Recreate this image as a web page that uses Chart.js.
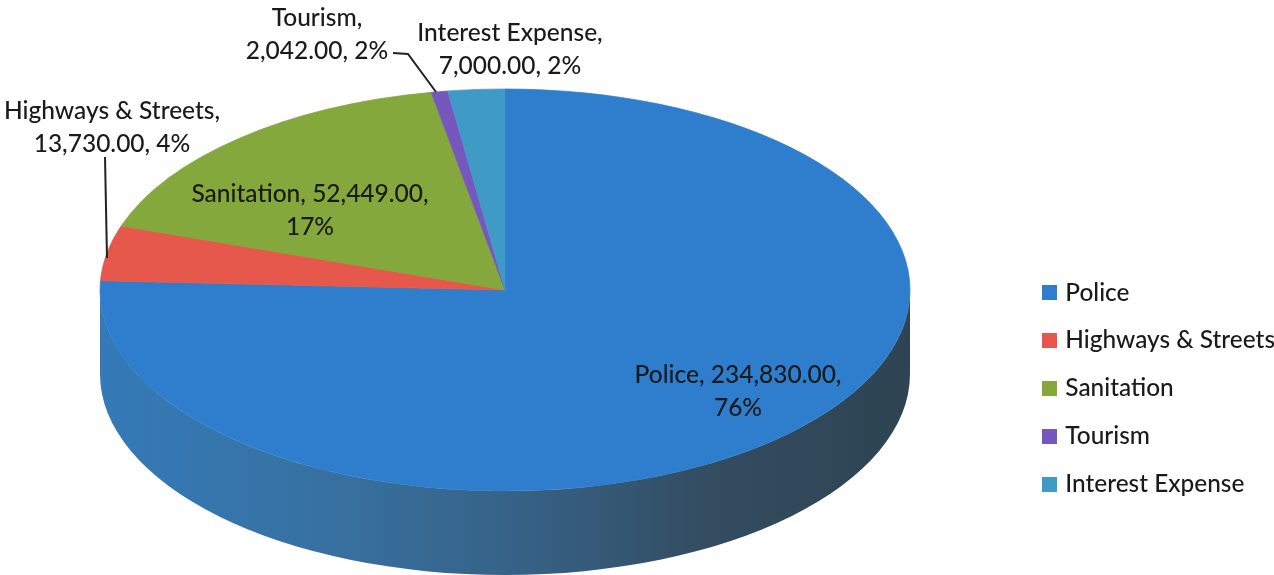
<!DOCTYPE html>
<html>
<head>
<meta charset="utf-8">
<title>Expenses by department</title>
<script src="https://cdn.jsdelivr.net/npm/chart.js@4/dist/chart.umd.min.js"></script>
<style>
  html, body { margin: 0; padding: 0; background: #fff; }
  canvas { display: block; }
</style>
</head>
<body>
<canvas id="pie" width="1274" height="575"></canvas>
<script>
const categories = ['Police', 'Highways & Streets', 'Sanitation', 'Tourism', 'Interest Expense'];
const amounts = [234830, 13730, 52449, 2042, 7000];
const percents = [76, 4, 17, 2, 2];
const sliceColors = ['#2f7dcd', '#e5584b', '#84a83b', '#7657bd', '#3f9ac6'];

const FONT = 'Lato, "Open Sans", sans-serif';
const TEXT_COLOR = '#1a1a1a';

// pie disc on the page: flattened circle plus an extruded rim
const disc = { cx: 505, cy: 290, rx: 405, ry: 201, depth: 84 };

// centre of each label's two lines, and where the text wraps
const labelPlaces = [
  { x: 738, y: 375, wrap: 'value' },
  { x: 112, y: 111, wrap: 'name' },
  { x: 310, y: 194, wrap: 'value' },
  { x: 317, y: 18, wrap: 'name' },
  { x: 510, y: 33, wrap: 'name' }
];
const leaders = [
  [[105, 157], [107, 258]],
  [[393, 53], [408, 54], [436, 92]]
];

const money = v => v.toLocaleString('en-US', { minimumFractionDigits: 2, maximumFractionDigits: 2 });

function swatch(color) {
  const c = document.createElement('canvas');
  c.width = 15;
  c.height = 15;
  const g = c.getContext('2d');
  g.fillStyle = color;
  g.fillRect(0, 0, 15, 15);
  return c;
}

// squashes the arcs into an ellipse and paints the rim below them
const tiltPlugin = {
  id: 'tilt',
  beforeDatasetsDraw(chart) {
    const { ctx } = chart;
    const arcs = chart.getDatasetMeta(0).data;
    const { cx, cy, rx, ry, depth } = disc;

    const rim = ctx.createLinearGradient(cx - rx, 0, cx + rx, 0);
    rim.addColorStop(0, '#347ab8');
    rim.addColorStop(0.3, '#37709f');
    rim.addColorStop(0.55, '#365f82');
    rim.addColorStop(0.75, '#334c60');
    rim.addColorStop(1, '#2e4452');

    arcs.forEach(arc => {
      const start = Math.max(arc.startAngle, 0);
      const end = Math.min(arc.endAngle, Math.PI);
      if (end <= start) return;
      ctx.beginPath();
      ctx.ellipse(cx, cy, rx, ry, 0, start, end);
      ctx.ellipse(cx, cy + depth, rx, ry, 0, end, start, true);
      ctx.closePath();
      ctx.fillStyle = rim;
      ctx.fill();
    });

    const first = arcs[0];
    ctx.save();
    ctx.translate(cx, cy);
    ctx.scale(1, ry / rx);
    ctx.translate(-first.x, -first.y);
  },
  afterDatasetsDraw(chart) {
    chart.ctx.restore();
  }
};

// value labels and their leader lines
const labelPlugin = {
  id: 'sliceLabels',
  afterDraw(chart) {
    const { ctx } = chart;
    ctx.save();
    ctx.strokeStyle = '#222';
    ctx.lineWidth = 2;
    leaders.forEach(pts => {
      ctx.beginPath();
      pts.forEach(([x, y], i) => (i ? ctx.lineTo(x, y) : ctx.moveTo(x, y)));
      ctx.stroke();
    });

    ctx.font = '500 24.5px ' + FONT;
    ctx.fillStyle = TEXT_COLOR;
    ctx.textAlign = 'center';
    ctx.textBaseline = 'middle';
    labelPlaces.forEach((place, i) => {
      const name = categories[i] + ',';
      const value = money(amounts[i]);
      const pct = percents[i] + '%';
      const lines = place.wrap === 'name'
        ? [name, value + ', ' + pct]
        : [name + ' ' + value + ',', pct];
      lines.forEach((line, n) => ctx.fillText(line, place.x, place.y + n * 33));
    });
    ctx.restore();
  }
};

new Chart(document.getElementById('pie'), {
  type: 'pie',
  data: {
    labels: categories,
    datasets: [{
      data: amounts,
      backgroundColor: sliceColors,
      borderColor: sliceColors,
      borderWidth: 1,
      clip: false
    }]
  },
  options: {
    responsive: false,
    animation: false,
    radius: disc.rx,
    layout: { padding: { bottom: 55, top: 0, left: 0, right: -11 } },
    plugins: {
      tooltip: { enabled: false },
      legend: {
        position: 'right',
        align: 'end',
        labels: {
          color: TEXT_COLOR,
          font: { family: FONT, size: 24.4, weight: '500' },
          usePointStyle: true,
          pointStyleWidth: 7,
          padding: 23.5,
          generateLabels: () => categories.map((text, i) => ({
            text,
            fillStyle: sliceColors[i],
            strokeStyle: sliceColors[i],
            lineWidth: 0,
            pointStyle: swatch(sliceColors[i]),
            fontColor: TEXT_COLOR,
            index: i
          }))
        }
      }
    }
  },
  plugins: [tiltPlugin, labelPlugin]
});
</script>
</body>
</html>
